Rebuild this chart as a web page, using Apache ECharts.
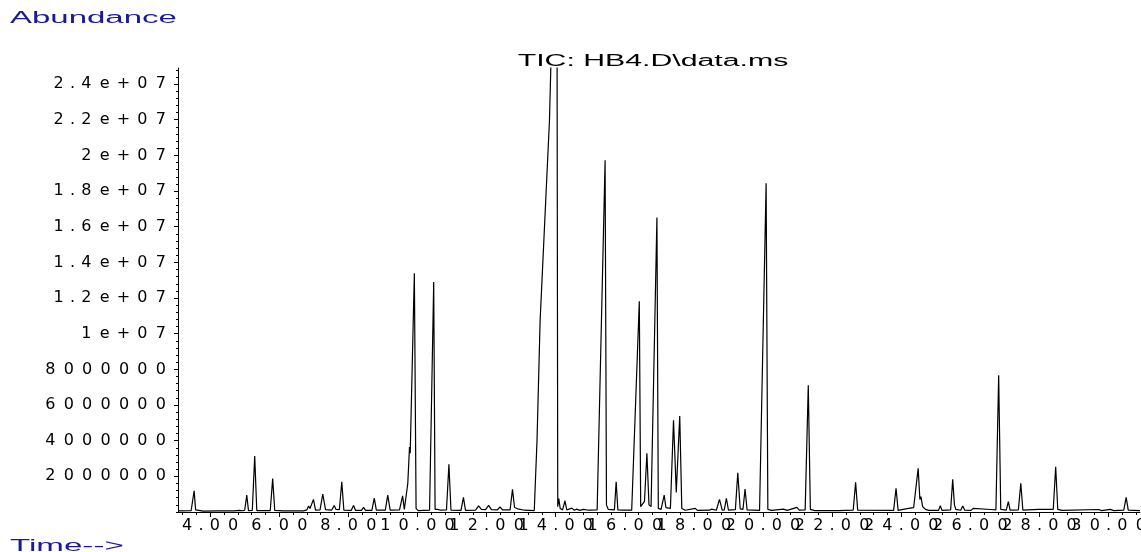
<!DOCTYPE html>
<html>
<head>
<meta charset="utf-8">
<title>TIC: HB4.D\data.ms</title>
<script src="https://cdn.jsdelivr.net/npm/echarts@6/dist/echarts.min.js"></script>
<style>
  html, body { margin: 0; padding: 0; background: #ffffff; }
  #tic-chart { width: 1141px; height: 552px; }
</style>
</head>
<body>
<div id="tic-chart"></div>
<script>
// retention time (min)
var times = [
    3.08, 3.45, 3.50, 3.537, 3.58, 3.62, 3.80, 4.20, 4.70, 4.85, 4.89, 4.94,
    5.00, 5.06, 5.11, 5.22, 5.29, 5.35, 5.74, 5.81, 5.87, 6.00, 6.05, 6.10,
    6.70, 6.80, 6.85, 6.89, 6.99, 7.05, 7.18, 7.26, 7.34, 7.52, 7.59, 7.64,
    7.74, 7.81, 7.87, 8.08, 8.15, 8.21, 8.38, 8.44, 8.50, 8.68, 8.75, 8.81,
    9.07, 9.14, 9.21, 9.48, 9.57, 9.62, 9.67, 9.72, 9.77, 9.79, 9.91, 9.96,
    10.02, 10.35, 10.47, 10.51, 10.58, 10.62, 10.67, 10.84, 10.91, 10.97,
    11.26, 11.33, 11.39, 11.68, 11.77, 11.85, 11.97, 12.06, 12.14, 12.31,
    12.39, 12.46, 12.68, 12.75, 12.81, 12.90, 13.10, 13.38, 13.41, 13.46,
    13.55, 13.82, 13.98, 14.04, 14.06, 14.09, 14.13, 14.20, 14.27, 14.32,
    14.47, 14.54, 14.61, 14.70, 14.80, 14.95, 15.20, 15.24, 15.43, 15.47,
    15.52, 15.70, 15.75, 15.80, 15.95, 16.20, 16.24, 16.42, 16.46, 16.50,
    16.57, 16.64, 16.70, 16.76, 16.93, 16.97, 17.05, 17.14, 17.19, 17.24,
    17.32, 17.41, 17.49, 17.59, 17.65, 17.75, 18.04, 18.10, 18.45, 18.52,
    18.65, 18.74, 18.82, 18.88, 18.94, 19.00, 19.20, 19.27, 19.34, 19.42,
    19.48, 19.54, 19.90, 19.95, 20.09, 20.14, 20.25, 20.59, 20.70, 20.98,
    21.05, 21.22, 21.31, 21.37, 21.50, 22.20, 22.61, 22.68, 22.74, 23.78,
    23.85, 23.91, 24.21, 24.26, 24.36, 24.41, 24.49, 24.54, 24.57, 24.62,
    24.70, 24.80, 25.08, 25.13, 25.18, 25.43, 25.49, 25.54, 25.58, 25.72,
    25.78, 25.84, 26.02, 26.08, 26.13, 26.58, 26.74, 26.82, 26.88, 27.04,
    27.10, 27.15, 27.39, 27.46, 27.52, 27.97, 28.40, 28.47, 28.53, 28.65,
    29.71, 29.80, 30.05, 30.15, 30.44, 30.51, 30.57, 30.91
];

// abundance at each of those times
var abundance = [
    60000, 70000, 150000, 1190000, 120000, 60000, 50000, 60000, 60000, 90000, 150000, 70000,
    100000, 950000, 80000, 90000, 3140000, 80000, 80000, 1870000, 90000, 80000, 150000, 60000,
    60000, 120000, 340000, 200000, 710000, 110000, 120000, 1000000, 130000, 110000, 360000, 150000,
    130000, 1700000, 100000, 90000, 370000, 90000, 90000, 260000, 90000, 90000, 780000, 100000,
    100000, 950000, 100000, 120000, 900000, 150000, 200000, 1600000, 3640000, 3300000, 13390000, 200000,
    80000, 100000, 12900000, 150000, 150000, 220000, 100000, 120000, 2670000, 100000,
    90000, 820000, 90000, 100000, 340000, 150000, 130000, 370000, 130000, 120000,
    280000, 120000, 120000, 1270000, 250000, 180000, 100000, 80000, 80000, 4030000,
    10760000, 21960000, 34000000, 26000000, 300000, 750000, 200000, 120000, 630000, 120000,
    220000, 100000, 160000, 90000, 150000, 100000, 120000, 150000, 19720000, 400000,
    150000, 120000, 1700000, 120000, 100000, 100000, 150000, 11820000, 300000, 250000,
    600000, 3290000, 400000, 300000, 16510000, 200000, 150000, 950000, 250000, 160000,
    200000, 5150000, 1100000, 5380000, 200000, 100000, 200000, 90000, 100000, 160000,
    100000, 710000, 100000, 120000, 770000, 110000, 130000, 2200000, 180000, 150000,
    1290000, 120000, 90000, 150000, 18430000, 150000, 90000, 160000, 90000, 260000,
    100000, 120000, 7110000, 150000, 80000, 80000, 100000, 1660000, 100000, 90000,
    1330000, 90000, 200000, 110000, 250000, 180000, 2450000, 700000, 860000, 300000,
    150000, 90000, 90000, 350000, 90000, 120000, 1830000, 400000, 150000, 100000,
    340000, 100000, 90000, 200000, 90000, 140000, 120000, 7670000, 150000, 100000,
    580000, 100000, 120000, 1610000, 110000, 150000, 150000, 2540000, 150000, 90000,
    140000, 80000, 150000, 80000, 100000, 820000, 100000, 80000
];

var xTickValues = [4, 6, 8, 10, 12, 14, 16, 18, 20, 22, 24, 26, 28, 30];
var xTickLabels = ['4.00', '6.00', '8.00', '10.00', '12.00', '14.00', '16.00',
    '18.00', '20.00', '22.00', '24.00', '26.00', '28.00', '30.00'];
var yTickValues = [2000000, 4000000, 6000000, 8000000, 10000000, 12000000,
    14000000, 16000000, 18000000, 20000000, 22000000, 24000000];
var yTickLabels = ['2000000', '4000000', '6000000', '8000000', '1e+07', '1.2e+07',
    '1.4e+07', '1.6e+07', '1.8e+07', '2e+07', '2.2e+07', '2.4e+07'];

var xMin = 3.07, xMax = 30.91;
var yMax = 24900000;

// minor ticks every 0.4 min and every 400000 counts
var xMinor = [];
for (var i = 8; i <= 77; i++) xMinor.push(+(i * 0.4).toFixed(1));
var yMinor = [];
for (var j = 0; j <= 62; j++) yMinor.push(j * 400000);

// the time labels overlap each other in the printout, so they are split over two
// stacked axes (every other label) to stop echarts from hiding the crowded ones
var xLabelsEven = xTickValues.filter((v, k) => k % 2 === 0);
var xLabelsOdd = xTickValues.filter((v, k) => k % 2 === 1);

var seriesData = times.map((t, k) => [t, abundance[k]]);

// the printout uses a horizontally stretched font; give each glyph its own wide box
var FONT = '"Liberation Sans", Arial, sans-serif';
var TICK_FONT = '"DejaVu Sans", sans-serif';
var richGlyphs = {
    d: { width: 18.4, align: 'center', fontSize: 16, fontFamily: TICK_FONT, color: '#000' },
    p: { width: 9.2, align: 'center', fontSize: 16, fontFamily: TICK_FONT, color: '#000' },
    s: { width: 19.3, align: 'center', fontSize: 16, fontFamily: TICK_FONT, color: '#000' }
};
function spread(str) {
    return str.split('').map(ch => {
        var cls = ch === '.' ? 'p' : (ch === '+' ? 's' : 'd');
        return '{' + cls + '|' + ch + '}';
    }).join('');
}
function labelFor(values, labels, v) {
    for (var n = 0; n < values.length; n++) {
        if (Math.abs(values[n] - v) < 1e-6 * Math.max(1, Math.abs(v))) return spread(labels[n]);
    }
    return '';
}
function timeLabel(valuesShown) {
    return {
        show: true,
        customValues: valuesShown,
        showMinLabel: true,
        showMaxLabel: true,
        hideOverlap: false,
        margin: 6,
        verticalAlign: 'top',
        formatter: v => labelFor(xTickValues, xTickLabels, v),
        rich: richGlyphs
    };
}

var chartDom = document.getElementById('tic-chart');
var ticChart = echarts.init(chartDom, null, { renderer: 'canvas' });
var option;

option = {
    animation: false,
    backgroundColor: '#ffffff',
    grid: { left: 178, right: 1, top: 68, bottom: 40, containLabel: false, outerBoundsMode: 'none' },
    xAxis: [
        {
            type: 'value',
            min: xMin,
            max: xMax,
            position: 'bottom',
            splitLine: { show: false },
            axisLine: { show: true, onZero: false, lineStyle: { color: '#000', width: 1 } },
            axisTick: { show: true, length: 5, customValues: xTickValues, lineStyle: { color: '#000' } },
            axisLabel: timeLabel(xLabelsEven)
        },
        {
            type: 'value',
            min: xMin,
            max: xMax,
            position: 'bottom',
            splitLine: { show: false },
            axisLine: { show: false },
            axisTick: { show: true, length: 3, customValues: xMinor, lineStyle: { color: '#000' } },
            axisLabel: timeLabel(xLabelsOdd)
        }
    ],
    yAxis: [
        {
            type: 'value',
            min: 0,
            max: yMax,
            position: 'left',
            splitLine: { show: false },
            axisLine: { show: true, onZero: false, lineStyle: { color: '#000', width: 1 } },
            axisTick: { show: true, length: 4, customValues: yTickValues, lineStyle: { color: '#000' } },
            axisLabel: {
                show: true,
                customValues: yTickValues,
                showMinLabel: true,
                showMaxLabel: true,
                margin: 8,
                formatter: v => labelFor(yTickValues, yTickLabels, v),
                rich: richGlyphs
            }
        },
        {
            type: 'value',
            min: 0,
            max: yMax,
            position: 'left',
            splitLine: { show: false },
            axisLine: { show: false },
            axisTick: { show: true, length: 2, customValues: yMinor, lineStyle: { color: '#000' } },
            axisLabel: { show: false, customValues: yMinor }
        }
    ],
    graphic: [
        {
            type: 'text', x: 10, y: 19, scaleX: 2.06, silent: true,
            style: { text: 'Abundance', fill: '#1a1a99', font: '16px ' + FONT, textAlign: 'left', textVerticalAlign: 'middle' }
        },
        {
            type: 'text', x: 10, y: 547, scaleX: 2.07, silent: true,
            style: { text: 'Time-->', fill: '#1a1a99', font: '16px ' + FONT, textAlign: 'left', textVerticalAlign: 'middle' }
        },
        {
            type: 'text', x: 653, y: 61.5, scaleX: 1.89, silent: true,
            style: { text: 'TIC: HB4.D\\data.ms', fill: '#000', font: '16px ' + FONT, textAlign: 'center', textVerticalAlign: 'middle' }
        }
    ],
    series: [
        {
            name: 'TIC',
            type: 'line',
            xAxisIndex: 0,
            yAxisIndex: 0,
            data: seriesData,
            showSymbol: false,
            symbol: 'none',
            clip: true,
            sampling: null,
            lineStyle: { color: '#000', width: 1.2 },
            emphasis: { disabled: true }
        }
    ]
};

option && ticChart.setOption(option);

window.addEventListener('resize', () => {
    ticChart.resize();
});
</script>
</body>
</html>
